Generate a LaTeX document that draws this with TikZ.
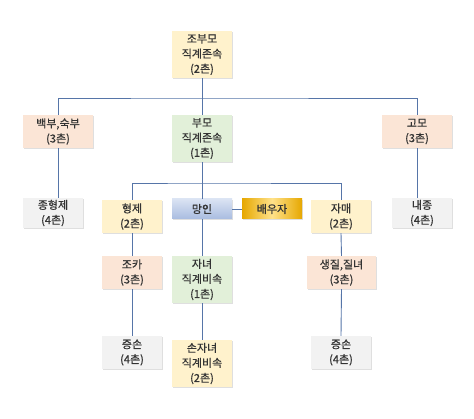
\documentclass[tikz,border=0pt]{standalone}
\usepackage{fontspec}
\newfontfamily\kr[FakeBold=0.7]{Noto Sans CJK KR}
\usepackage{tikz}
\usetikzlibrary{positioning, shadows}

\definecolor{boxyellow}{HTML}{FFF2CC}
\definecolor{boxpeach}{HTML}{FBE5D6}
\definecolor{boxgreen}{HTML}{E2F0D9}
\definecolor{boxgray}{HTML}{F2F2F2}
\definecolor{selftop}{HTML}{DAE3F3}
\definecolor{selfbot}{HTML}{A9BCE0}
\definecolor{golddark}{HTML}{E6A700}
\definecolor{goldlight}{HTML}{FFE28A}
\definecolor{linkblue}{HTML}{5675A8}
\definecolor{txtgray}{HTML}{333333}

\begin{document}
\begin{tikzpicture}[x=1pt, y=-1pt,
    kin/.style={align=center, inner sep=0pt, minimum width=60pt, text=txtgray,
                font=\kr\fontsize{11}{15}\selectfont,
                drop shadow={shadow xshift=1pt, shadow yshift=-1pt, opacity=0.25}},
    tall/.style={kin, minimum height=47pt},
    mid/.style={kin, minimum height=33pt},
    low/.style={kin, minimum height=30pt},
    link/.style={draw=linkblue, line width=0.9pt}]
      \useasboundingbox[fill=white] (0,0) rectangle (474,419);
      % ancestors
      \node[tall, fill=boxyellow] (gp) at (202,54.5) {조부모\\직계존속\\(2촌)};
      \node[mid, fill=boxpeach, minimum width=70pt] (uncle) at (58,131.5) {백부,숙부\\(3촌)};
      \node[tall, fill=boxgreen] (par) at (202,138.5) {부모\\직계존속\\(1촌)};
      \node[mid, fill=boxpeach, minimum width=70pt] (aunt) at (417,131.5) {고모\\(3촌)};
      % own generation
      \node[low, fill=boxgray] (cousin) at (53,213) {종형제\\(4촌)};
      \node[mid, fill=boxyellow] (bro) at (132,216.5) {형제\\(2촌)};
      \node[kin, minimum height=20pt, top color=selftop, bottom color=selfbot] (self) at (202,209) {망인};
      \node[kin, minimum height=20pt, left color=golddark, right color=golddark, middle color=goldlight] (spouse) at (272,209) {배우자};
      \node[mid, fill=boxyellow] (sis) at (341,216.5) {자매\\(2촌)};
      \node[low, fill=boxgray] (inner) at (422,213) {내종\\(4촌)};
      % descendants
      \node[mid, fill=boxpeach] (nephew) at (132,272.5) {조카\\(3촌)};
      \node[tall, fill=boxgreen] (child) at (202,279.5) {자녀\\직계비속\\(1촌)};
      \node[mid, fill=boxpeach, minimum width=69pt] (niece) at (341.5,272.5) {생질,질녀\\(3촌)};
      \node[mid, fill=boxgray] (ggl) at (132,352.5) {증손\\(4촌)};
      \node[tall, fill=boxyellow] (grand) at (202,363.5) {손자녀\\직계비속\\(2촌)};
      \node[mid, fill=boxgray] (ggr) at (341,352.5) {증손\\(4촌)};
      % connectors
      \coordinate (top) at (202,98);
      \coordinate (fork) at (202,183);
      \draw[link] (gp.south) -- (par.north);
      \draw[link] (uncle.north) |- (top) -| (aunt.north);
      \draw[link] (uncle.south) -- (uncle.south |- cousin.north);
      \draw[link] (aunt.south) -- (aunt.south |- inner.north);
      \draw[link] (par.south) -- (self.north);
      \draw[link] (bro.north) |- (fork) -| (sis.north);
      \draw[link] (self.east) -- (spouse.west);
      \draw[link] (bro.south) -- (nephew.north);
      \draw[link] (nephew.south) -- (ggl.north);
      \draw[link] (self.south) -- (child.north);
      \draw[link] (child.south) -- (grand.north);
      \draw[link] (sis.south) -- (niece.north);
      \draw[link] (niece.south) -- (ggr.north);
\end{tikzpicture}
\end{document}
